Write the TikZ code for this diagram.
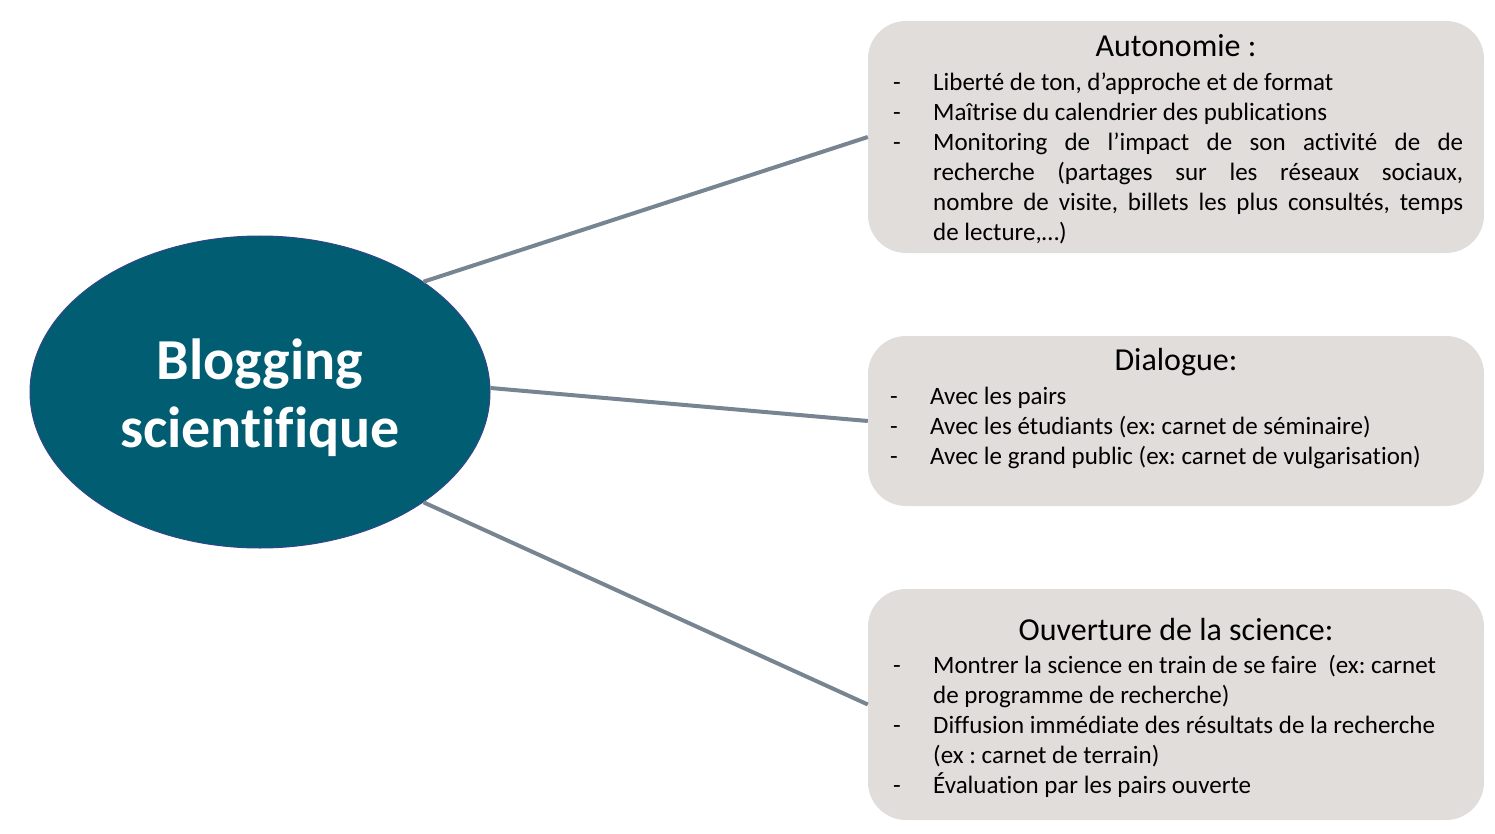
\documentclass[tikz,border=0pt]{standalone}
\usepackage{fontspec}
\setmainfont{Carlito}[Ligatures={NoCommon}]
\usetikzlibrary{shapes.geometric}
\definecolor{teal1}{RGB}{1,94,114}
\definecolor{ellborder}{RGB}{50,70,140}
\definecolor{boxfill}{RGB}{224,221,218}
\definecolor{linegray}{RGB}{118,133,145}
\tikzset{
  hub/.style={ellipse, fill=teal1, draw=ellborder, line width=1pt, minimum width=460pt, minimum height=312pt, inner sep=0pt},
  hubtext/.style={text=white, font=\fontsize{58}{68}\selectfont\bfseries, align=center},
  topicbox/.style={rounded corners=38pt, fill=boxfill, draw=none, minimum width=616pt, inner sep=0pt},
  boxtitle/.style={font=\fontsize{32}{36}\selectfont, anchor=base, inner sep=0pt},
  bodytext/.style={font=\fontsize{25}{30}\selectfont\frenchspacing, anchor=north west, inner sep=0pt, text width=570pt, align=justify},
  link/.style={draw=linegray, line width=4pt}
}
\newcommand{\itm}{\par\hangindent=40pt\hangafter=1\noindent\makebox[40pt][l]{-}}
\newcommand{\brk}{\hfil\break}
\begin{document}
\begin{tikzpicture}[x=1pt,y=-1pt]
\useasboundingbox (0,0) rectangle (1495,834);
% boxes
\node[topicbox, minimum height=232pt] (b1) at (1176,137) {};
\node[topicbox, minimum height=170pt] (b2) at (1176,421) {};
\node[topicbox, minimum height=231pt] (b3) at (1176,704.5) {};
% hub
\node[hub] (hub) at (260,392) {};
\node[hubtext] (hubt) at (260,398) {Blogging\\scientifique};
% links
\draw[link] (hub.34) -- (b1.west);
\draw[link] (hub.1.5) -- (b2.west);
\draw[link] (hub.-34) -- (b3.west);
% titles
\node[boxtitle] (t1) at (1176,57) {Autonomie :};
\node[boxtitle] (t2) at (1176,370) {Dialogue:};
\node[boxtitle] (t3) at (1176,640) {Ouverture de la science:};
% bodies
\node[bodytext] (x1) at (893,60) {%
\itm Liberté de ton, d’approche et de format
\itm Maîtrise du calendrier des publications
\itm Monitoring de l’impact de son activité de de\linebreak recherche (partages sur les réseaux sociaux,\linebreak nombre de visite, billets les plus consultés, temps\linebreak de lecture,…)\par};
\node[bodytext] (x2) at (890,374) {%
\itm Avec les pairs
\itm Avec les étudiants (ex: carnet de séminaire)
\itm Avec le grand public (ex: carnet de vulgarisation)\par};
\node[bodytext] (x3) at (893,643) {%
\itm Montrer la science en train de se faire\ \ (ex: carnet\brk de programme de recherche)
\itm Diffusion immédiate des résultats de la recherche\brk (ex : carnet de terrain)
\itm Évaluation par les pairs ouverte\par};
\end{tikzpicture}
\end{document}
